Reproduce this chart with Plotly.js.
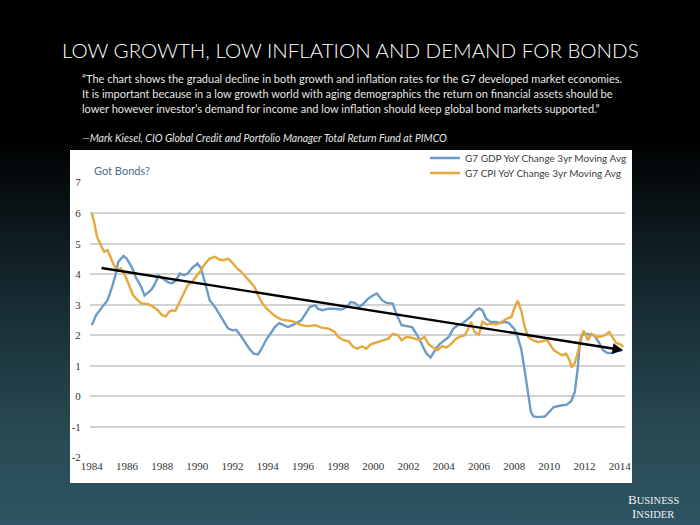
<!DOCTYPE html>
<html>
<head>
<meta charset="utf-8">
<script src="https://cdn.plot.ly/plotly-3.0.1.min.js"></script>
<style>
  html, body { margin:0; padding:0; }
  #wrap { width:700px; height:525px; position:relative;
    background: linear-gradient(to bottom, #000 0%, #000 26%, #0b161a 42%, #1a3139 62%, #27474f 80%, #2e5564 100%); }
  #chart { width:700px; height:525px; position:absolute; left:0; top:0; }
</style>
</head>
<body>
<div id="wrap"><div id="chart"></div></div>
<script>
// ---- data ----
const gdpYears = [1984.0,1984.25,1984.6,1984.9,1985.15,1985.35,1985.5,1985.8,1986.0,1986.3,1986.5,1986.8,1987.0,1987.2,1987.4,1987.6,1987.8,1988.05,1988.3,1988.55,1988.8,1989.0,1989.25,1989.45,1989.7,1990.0,1990.2,1990.35,1990.5,1990.7,1991.0,1991.25,1991.5,1991.75,1992.0,1992.2,1992.45,1992.7,1992.95,1993.2,1993.45,1993.65,1993.9,1994.15,1994.4,1994.65,1994.9,1995.15,1995.4,1995.65,1995.9,1996.15,1996.4,1996.7,1996.85,1997.1,1997.45,1997.8,1998.2,1998.5,1998.7,1998.95,1999.2,1999.45,1999.7,2000.0,2000.2,2000.5,2000.75,2001.1,2001.3,2001.6,2001.9,2002.2,2002.5,2002.8,2003.0,2003.25,2003.55,2003.8,2004.05,2004.3,2004.55,2004.8,2005.05,2005.3,2005.55,2005.8,2006.02,2006.2,2006.4,2006.65,2006.95,2007.2,2007.45,2007.7,2008.0,2008.2,2008.4,2008.6,2008.8,2008.95,2009.1,2009.35,2009.75,2010.0,2010.25,2010.65,2011.0,2011.25,2011.45,2011.6,2011.72,2011.85,2012.05,2012.3,2012.55,2012.8,2013.05,2013.3,2013.6,2013.9,2014.1];
const gdpValues = [2.33,2.66,2.93,3.15,3.58,3.97,4.4,4.6,4.5,4.2,3.9,3.6,3.3,3.4,3.5,3.7,3.95,3.85,3.75,3.7,3.8,4.02,3.97,4.02,4.2,4.35,4.2,3.9,3.6,3.15,2.93,2.7,2.44,2.22,2.16,2.18,2.0,1.78,1.56,1.4,1.37,1.56,1.84,2.05,2.27,2.4,2.33,2.27,2.33,2.4,2.49,2.71,2.93,2.98,2.87,2.82,2.87,2.87,2.84,2.93,3.09,3.06,2.93,3.04,3.2,3.31,3.37,3.15,3.06,3.04,2.71,2.33,2.31,2.27,2.0,1.67,1.42,1.27,1.56,1.73,1.84,1.95,2.22,2.33,2.38,2.49,2.62,2.8,2.88,2.82,2.55,2.44,2.44,2.4,2.44,2.4,2.22,1.95,1.56,0.85,0.09,-0.51,-0.66,-0.68,-0.66,-0.51,-0.35,-0.3,-0.27,-0.15,0.15,0.85,1.62,2.0,2.05,2.03,2.0,1.78,1.51,1.42,1.42,1.51,1.49];

const cpiYears = [1984.0,1984.15,1984.3,1984.5,1984.7,1984.9,1985.1,1985.25,1985.45,1985.65,1985.85,1986.1,1986.35,1986.6,1986.85,1987.2,1987.5,1987.75,1988.0,1988.2,1988.4,1988.55,1988.75,1988.95,1989.2,1989.45,1989.7,1990.0,1990.2,1990.45,1990.7,1991.0,1991.25,1991.5,1991.75,1992.0,1992.25,1992.5,1992.75,1993.0,1993.25,1993.45,1993.7,1993.95,1994.25,1994.5,1994.8,1995.05,1995.4,1995.65,1995.9,1996.3,1996.7,1997.05,1997.45,1997.8,1998.0,1998.3,1998.6,1998.85,1999.1,1999.35,1999.6,1999.85,2000.25,2000.6,2000.85,2001.1,2001.4,2001.6,2001.9,2002.15,2002.4,2002.65,2002.9,2003.15,2003.4,2003.65,2003.9,2004.15,2004.4,2004.65,2004.9,2005.2,2005.4,2005.55,2005.75,2006.0,2006.2,2006.45,2006.7,2007.0,2007.3,2007.6,2007.85,2008.0,2008.2,2008.4,2008.6,2008.8,2009.05,2009.35,2009.6,2009.85,2010.0,2010.25,2010.5,2010.75,2010.95,2011.15,2011.27,2011.45,2011.65,2011.8,2011.95,2012.2,2012.4,2012.65,2012.9,2013.15,2013.4,2013.6,2013.8,2014.05,2014.2];
const cpiValues = [6.0,5.66,5.22,4.95,4.73,4.79,4.51,4.3,4.13,4.19,4.02,3.69,3.31,3.15,3.04,3.02,2.93,2.82,2.66,2.62,2.77,2.82,2.8,3.04,3.37,3.64,3.75,3.97,4.13,4.35,4.51,4.57,4.48,4.46,4.51,4.37,4.19,4.08,3.93,3.75,3.58,3.31,3.04,2.87,2.71,2.6,2.51,2.49,2.46,2.4,2.33,2.3,2.33,2.25,2.22,2.11,1.95,1.84,1.8,1.62,1.56,1.64,1.56,1.7,1.78,1.84,1.89,2.05,2.0,1.84,1.95,1.92,1.89,1.84,1.95,1.7,1.6,1.51,1.64,1.6,1.7,1.86,1.95,2.0,2.22,2.44,2.11,2.02,2.44,2.35,2.38,2.35,2.44,2.55,2.6,2.87,3.13,2.82,2.27,1.95,1.84,1.78,1.8,1.86,1.73,1.51,1.42,1.34,1.4,1.18,0.95,1.09,1.51,1.95,2.15,1.84,2.05,1.95,1.95,2.0,2.11,1.95,1.75,1.7,1.62];

const trendYears = [1984.47, 2014.2];
const trendValues = [4.21, 1.51];

const xTickVals = [1984,1986,1988,1990,1992,1994,1996,1998,2000,2002,2004,2006,2008,2010,2012,2014];
const xTickText = ["1984","1986","1988","1990","1992","1994","1996","1998","2000","2002","2004","2006","2008","2010","2012","2014"];
const yTickVals = [-2,-1,0,1,2,3,4,5,6,7];
const yTickText = ["-2","-1","0","1","2","3","4","5","6","7"];

const seriesNames = ["G7 GDP YoY Change 3yr Moving Avg", "G7 CPI YoY Change 3yr Moving Avg"];
const titleText = "LOW GROWTH, LOW INFLATION AND DEMAND FOR BONDS";
const quoteLines = [
  "\u201CThe chart shows the gradual decline in both growth and inflation rates for the G7 developed market economies.",
  "It is important because in a low growth world with aging demographics the return on financial assets should be",
  "lower however investor\u2019s demand for income and low inflation should keep global bond markets supported.\u201D"
];
const attribution = "\u2014Mark Kiesel, CIO Global Credit and Portfolio Manager Total Return Fund at PIMCO";
const chartLabel = "Got Bonds?";

// ---- layout helpers (pixel -> paper) ----
const M = {l:90, r:75, t:182, b:67};
const PW = 700 - M.l - M.r, PH = 525 - M.t - M.b;
const xp = px => (px - M.l) / PW;
const yp = py => (525 - M.b - py) / PH;

const traces = [
  {x: gdpYears, y: gdpValues, name: seriesNames[0], type: 'scatter', mode: 'lines',
   line: {color: '#6b9bc6', width: 2.4}, legend: 'legend'},
  {x: cpiYears, y: cpiValues, name: seriesNames[1], type: 'scatter', mode: 'lines',
   line: {color: '#e3a93c', width: 2.4}, legend: 'legend2'}
];

const annotations = [
  {xref:'paper', yref:'paper', x: xp(350), y: yp(50), xanchor:'center', yanchor:'middle',
   text: titleText, showarrow:false, font:{family:'Lato, Open Sans, sans-serif', size:20.5, weight:300, color:'#ffffff'}},
  {xref:'x', yref:'y', x: trendYears[1], y: trendValues[1], ax: trendYears[0], ay: trendValues[0],
   axref:'x', ayref:'y', text:'', showarrow:true, arrowhead:2, arrowsize:0.9, arrowwidth:2.4,
   arrowcolor:'#000000', standoff:0, startstandoff:0},
  {xref:'paper', yref:'paper', x: xp(92), y: yp(170), xanchor:'left', yanchor:'middle',
   text: chartLabel, showarrow:false, font:{family:'Lato, sans-serif', size:11, color:'#4a6d88'}},
  {xref:'paper', yref:'paper', x: xp(80), y: yp(138), xanchor:'left', yanchor:'middle',
   text: '<i>' + attribution + '</i>', showarrow:false,
   font:{family:'Lato, sans-serif', size:10.5, color:'#e6e6e6'}},
  {xref:'paper', yref:'paper', x: xp(653), y: yp(499), xanchor:'center', yanchor:'middle',
   text: 'B<span style="font-size:10.5px">USINESS</span>', showarrow:false,
   font:{family:'Liberation Serif, serif', size:13, color:'#eef1f2'}},
  {xref:'paper', yref:'paper', x: xp(653), y: yp(513), xanchor:'center', yanchor:'middle',
   text: 'I<span style="font-size:10.5px">NSIDER</span>', showarrow:false,
   font:{family:'Liberation Serif, serif', size:13, color:'#eef1f2'}}
];
const quoteY = [78, 94, 109];
quoteLines.forEach((t, i) => annotations.push({
  xref:'paper', yref:'paper', x: xp(80), y: yp(quoteY[i]), xanchor:'left', yanchor:'middle',
  text: t, showarrow:false, font:{family:'Lato, sans-serif', size:11, color:'#e6e6e6'}
}));

const legendStyle = (py) => ({x: xp(425), y: yp(py), xanchor:'left', yanchor:'middle',
  bgcolor:'rgba(0,0,0,0)', font:{family:'Lato, sans-serif', size:10, color:'#404040'},
  itemwidth:30, tracegroupgap:0});

const layout = {
  width:700, height:525,
  margin: M,
  paper_bgcolor:'rgba(0,0,0,0)',
  plot_bgcolor:'rgba(0,0,0,0)',
  showlegend:true,
  legend: legendStyle(158),
  legend2: legendStyle(173),
  xaxis:{range:[1983.9, 2014.3], tickmode:'array', tickvals:xTickVals, ticktext:xTickText,
         showgrid:false, zeroline:false, showline:false, ticks:'',
         tickfont:{family:'Liberation Serif, serif', size:11, color:'#333333'}, fixedrange:true},
  yaxis:{range:[-2.02, 7.02], tickmode:'array', tickvals:yTickVals, ticktext:yTickText,
         showgrid:true, gridcolor:'#d2d2d2', gridwidth:2, zeroline:false, showline:false,
         ticks:'outside', ticklen:6, tickcolor:'rgba(0,0,0,0)',
         tickfont:{family:'Liberation Serif, serif', size:11, color:'#333333'}, fixedrange:true},
  shapes:[
    {type:'rect', xref:'paper', yref:'paper', x0: xp(70), x1: xp(632), y0: yp(483), y1: yp(150),
     fillcolor:'#ffffff', line:{width:0}, layer:'below'}
  ],
  annotations: annotations
};

Plotly.newPlot('chart', traces, layout, {displayModeBar:false, staticPlot:true});
</script>
</body>
</html>
